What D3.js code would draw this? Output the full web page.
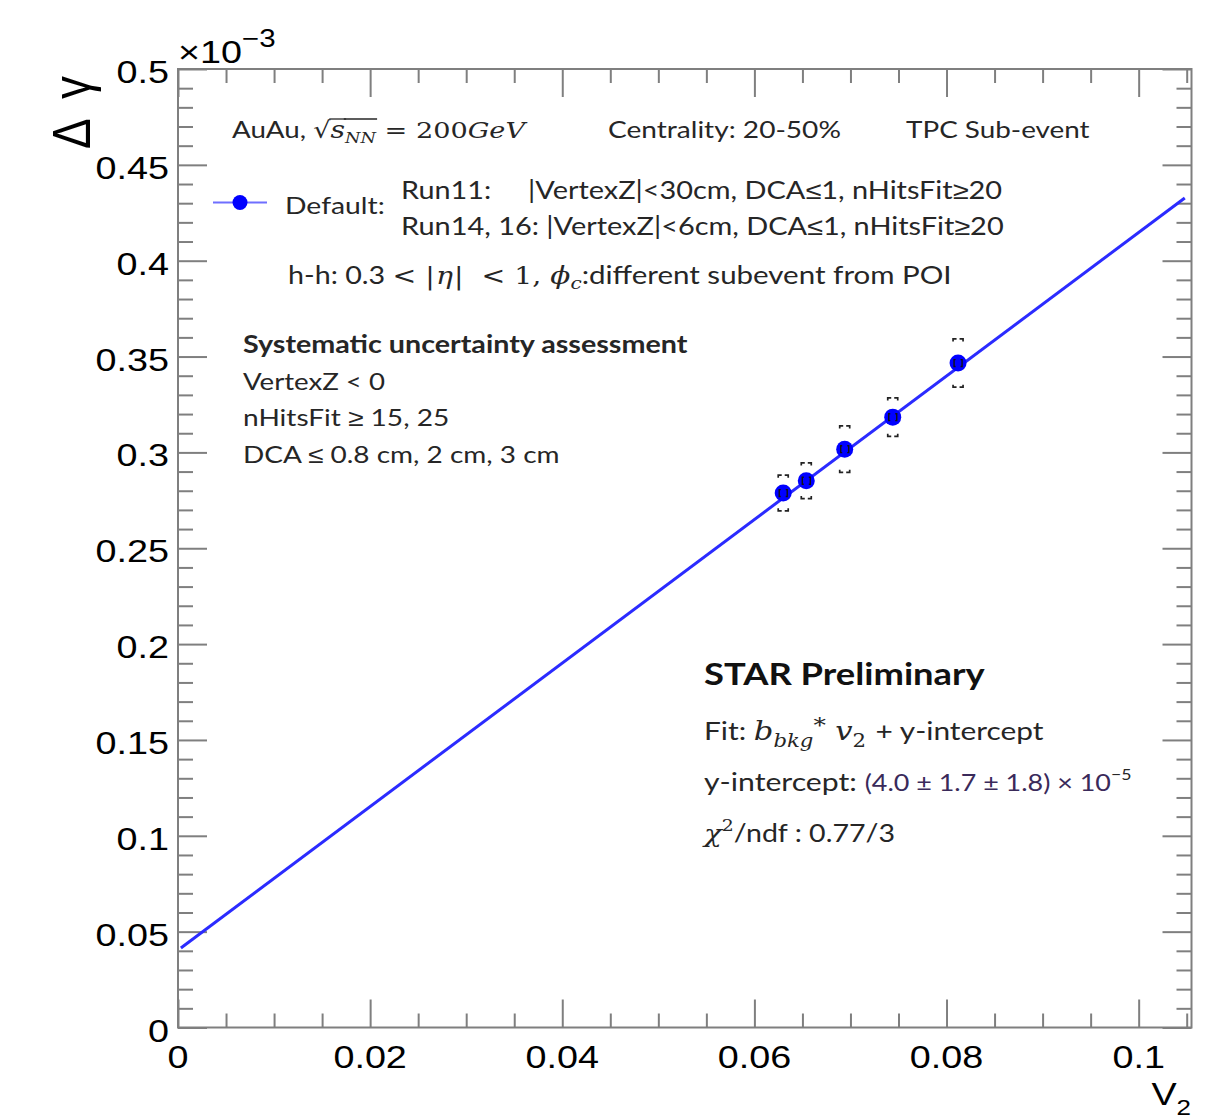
<!DOCTYPE html>
<html>
<head>
<meta charset="utf-8">
<script src="https://cdn.jsdelivr.net/npm/d3@7"></script>
<style>
  html, body { margin: 0; padding: 0; background: #fff; }
  svg { display: block; }
  text { white-space: pre; }
</style>
</head>
<body>
<svg id="chart" width="1222" height="1119"></svg>
<script>
// ---------------- data ----------------
const v2 = [0.0630, 0.0654, 0.0694, 0.0744, 0.0812];
const deltaGamma = [0.2788, 0.2852, 0.3017, 0.3184, 0.3466];   // x 10^-3
const statErr = [0.0018, 0.0018, 0.0018, 0.0018, 0.0018];
const sysErr = [0.0093, 0.0093, 0.0121, 0.0100, 0.0126];
const fitX = [0.0003, 0.1048];
const fitY = [0.0415, 0.4327];
const xMajorTicks = [0, 0.02, 0.04, 0.06, 0.08, 0.1];
const xTickLabels = ["0", "0.02", "0.04", "0.06", "0.08", "0.1"];
const yMajorTicks = [0, 0.05, 0.1, 0.15, 0.2, 0.25, 0.3, 0.35, 0.4, 0.45, 0.5];
const yTickLabels = ["0", "0.05", "0.1", "0.15", "0.2", "0.25", "0.3", "0.35", "0.4", "0.45", "0.5"];
const xDomain = [0, 0.1055];
const yDomain = [0, 0.5];

// ---------------- setup ----------------
const SX = 1.18;                // horizontal stretch of the reference picture
const AXF = "'Liberation Sans', Arial, Helvetica, sans-serif";
const BODY = "Lato, 'Open Sans', sans-serif";
const SERIF = "'DejaVu Serif', 'Liberation Serif', serif";
const TXT = "#262626";
const FRAME = "#7f7f7f";

const svg = d3.select("#chart");
const L = 178, R = 1191.5, T = 69, B = 1027.5;
const x = d3.scaleLinear().domain(xDomain).range([L, R]);
const y = d3.scaleLinear().domain(yDomain).range([B, T]);

// ---------------- axes / ticks ----------------
const xMinor = d3.range(0.005, 0.1055, 0.005).filter(v => xMajorTicks.every(m => Math.abs(m - v) > 1e-9));
const yMinor = d3.range(0.01, 0.5, 0.01).filter(v => yMajorTicks.every(m => Math.abs(m - v) > 1e-9));

function tickAxis(gen, vals, size, tr) {
  const g = svg.append("g").attr("transform", tr)
    .call(gen.tickValues(vals).tickSize(size).tickFormat(""));
  g.select(".domain").remove();
  g.selectAll("line").attr("stroke", FRAME).attr("stroke-width", 2);
}
tickAxis(d3.axisBottom(x), xMajorTicks, -28, `translate(0,${B})`);
tickAxis(d3.axisBottom(x), xMinor, -14, `translate(0,${B})`);
tickAxis(d3.axisTop(x), xMajorTicks, -28, `translate(0,${T})`);
tickAxis(d3.axisTop(x), xMinor, -14, `translate(0,${T})`);
tickAxis(d3.axisLeft(y), yMajorTicks, -29, `translate(${L},0)`);
tickAxis(d3.axisLeft(y), yMinor, -15, `translate(${L},0)`);
tickAxis(d3.axisRight(y), yMajorTicks, -29, `translate(${R},0)`);
tickAxis(d3.axisRight(y), yMinor, -15, `translate(${R},0)`);

svg.append("rect").attr("x", L).attr("y", T).attr("width", R - L).attr("height", B - T)
  .attr("fill", "none").attr("stroke", FRAME).attr("stroke-width", 2);

// tick labels
xMajorTicks.forEach((v, i) => {
  svg.append("text")
    .attr("transform", `translate(${x(v)},${B + 40}) scale(${SX},1)`)
    .attr("text-anchor", "middle")
    .style("font-family", AXF).style("font-size", "32px").attr("fill", "#000")
    .text(xTickLabels[i]);
});
yMajorTicks.forEach((v, i) => {
  svg.append("text")
    .attr("transform", `translate(${L - 9},${y(v) + 14}) scale(${SX},1)`)
    .attr("text-anchor", "end")
    .style("font-family", AXF).style("font-size", "32px").attr("fill", "#000")
    .text(yTickLabels[i]);
});

// exponent label x10^-3
const ex = svg.append("text")
  .attr("transform", `translate(${L},63) scale(${SX},1)`)
  .style("font-family", AXF).style("font-size", "32px").attr("fill", "#000");
ex.append("tspan").text("×10");
ex.append("tspan").attr("dy", -16).style("font-size", "25px").text("−3");

// axis titles
const yt = svg.append("text")
  .attr("transform", `translate(90,149) scale(${SX},1) rotate(-90)`)
  .attr("text-anchor", "start")
  .style("font-family", AXF).style("font-size", "46px").attr("fill", "#000");
yt.append("tspan").text("Δ ");
yt.append("tspan").attr("dx", 9).text("γ");
const xt = svg.append("text")
  .attr("transform", `translate(1191,1105) scale(${SX},1)`)
  .attr("text-anchor", "end")
  .style("font-family", AXF).style("font-size", "32px").attr("fill", "#000");
xt.append("tspan").text("V");
xt.append("tspan").attr("dy", 10).style("font-size", "22px").text("2");

// ---------------- fit line ----------------
const fitData = fitX.map((d, i) => ({ x: d, y: fitY[i] }));
svg.append("path").datum(fitData)
  .attr("d", d3.line().x(d => x(d.x)).y(d => y(d.y)))
  .attr("fill", "none").attr("stroke", "#2b2bff").attr("stroke-width", 3);

// ---------------- points ----------------
const pts = v2.map((d, i) => ({ x: d, y: deltaGamma[i], s: statErr[i], sys: sysErr[i] }));
const pg = svg.append("g");
pts.forEach(p => {
  const cx = x(p.x);
  const top = y(p.y + p.sys), bot = y(p.y - p.sys);
  pg.append("path")
    .attr("d", `M${cx - 5},${top + 2.5}V${top}H${cx - 1.5} M${cx + 1.5},${top}H${cx + 5}V${top + 2.5}` +
               ` M${cx - 5},${bot - 2.5}V${bot}H${cx - 1.5} M${cx + 1.5},${bot}H${cx + 5}V${bot - 2.5}`)
    .attr("fill", "none").attr("stroke", "#222").attr("stroke-width", 1.7);
});
pg.selectAll("circle.pt").data(pts).join("circle").attr("class", "pt")
  .attr("cx", d => x(d.x)).attr("cy", d => y(d.y)).attr("r", 8.5).attr("fill", "#0000ff");
pts.forEach(p => {
  const cx = x(p.x);
  const t = y(p.y + p.s), b = y(p.y - p.s);
  pg.append("path")
    .attr("d", `M${cx - 2.5},${t}H${cx - 4}V${b}H${cx - 2.5} M${cx + 2.5},${t}H${cx + 4}V${b}H${cx + 2.5}`)
    .attr("fill", "none").attr("stroke", "#111").attr("stroke-width", 1.4);
});

// ---------------- rich text helper ----------------
function rich(x0, y0, parts) {
  const g = svg.append("g").attr("transform", `translate(${x0},${y0}) scale(${SX},1)`);
  let cx = 0;
  parts.forEach(p => {
    const t = g.append("text").attr("x", cx).attr("y", p.dy || 0)
      .style("font-family", p.f || BODY)
      .style("font-size", (p.s || 23) + "px")
      .style("font-style", p.i ? "italic" : "normal")
      .style("font-weight", p.b ? "bold" : "normal")
      .attr("fill", p.c || TXT)
      .text(p.t);
    const w = t.node().getComputedTextLength();
    if (p.over) {
      g.append("line").attr("x1", cx - 1).attr("x2", cx + w + 1)
        .attr("y1", p.over).attr("y2", p.over).attr("stroke", TXT).attr("stroke-width", 1.3);
    }
    cx += w + (p.gap || 0);
  });
  return g;
}
// split a plain string so that ≤ / ≥ use a font carrying full-size glyphs
function plain(str, s, extra) {
  return str.split(/([≤≥])/).filter(d => d.length).map(d =>
    Object.assign({ t: d, s: s, f: /[≤≥]/.test(d) ? AXF : BODY }, extra || {}));
}

// header row
rich(232, 138, [
  { t: "AuAu, ", s: 23.5 },
  { t: "√", f: SERIF, s: 23 },
  { t: "s", f: SERIF, s: 24, i: true, over: -19 },
  { t: "NN", f: SERIF, s: 15, i: true, dy: 5, over: -19 },
  { t: " = 200", f: SERIF, s: 23 },
  { t: "GeV", f: SERIF, s: 23, i: true }
]);
rich(608, 138, plain("Centrality: 20-50%", 23.8));
rich(906, 138, plain("TPC Sub-event", 23.6));

// legend
svg.append("line").attr("x1", 213).attr("x2", 267).attr("y1", 202.5).attr("y2", 202.5)
  .attr("stroke", "#6f6fff").attr("stroke-width", 2);
svg.append("circle").attr("cx", 240).attr("cy", 202.5).attr("r", 7.5).attr("fill", "#0000ff");
rich(285, 214, plain("Default:", 24));
rich(401, 199, plain("Run11:", 24.4));
rich(528, 199, plain("|VertexZ|<30cm, DCA≤1, nHitsFit≥20", 24.5));
rich(401, 235, plain("Run14, 16: |VertexZ|<6cm, DCA≤1, nHitsFit≥20", 24.5));

rich(288, 284, [
  { t: "h-h: 0.3 ", s: 24.3 },
  { t: "< |", f: SERIF, s: 24, gap: 1 },
  { t: "η", f: SERIF, s: 24, i: true, gap: 1 },
  { t: "|  < ", f: SERIF, s: 24 },
  { t: "1, ", f: SERIF, s: 24 },
  { t: "ϕ", f: SERIF, s: 25, i: true },
  { t: "c", f: SERIF, s: 17, i: true, dy: 5 },
  { t: ":different subevent from POI", s: 25 }
]);

// systematic block
rich(243, 353, [{ t: "Systematic uncertainty assessment", b: true, s: 24.3 }]);
rich(243, 390, plain("VertexZ < 0", 23.4));
rich(243, 426, plain("nHitsFit ≥ 15, 25", 23.8));
rich(243, 463, plain("DCA ≤ 0.8 cm, 2 cm, 3 cm", 23.7));

// STAR block
rich(704, 685, [{ t: "STAR Preliminary", b: true, s: 30.8, c: "#111" }]);
rich(704, 740, [
  { t: "Fit: ", s: 25.3 },
  { t: "b", f: SERIF, s: 26, i: true },
  { t: "bkg", f: SERIF, s: 18, i: true, dy: 7 },
  { t: "*", f: SERIF, s: 21, dy: -8, gap: 8 },
  { t: "v", f: SERIF, s: 26, i: true },
  { t: "2", f: SERIF, s: 18, dy: 7, gap: 8 },
  { t: "+ y-intercept", s: 25.3 }
]);
rich(704, 791, [
  { t: "y-intercept: ", s: 25.6 },
  { t: "(4.0 ± 1.7 ± 1.8) × 10", s: 22.8, c: "#3a2a5a" },
  { t: "−5", s: 15, dy: -11 }
]);
rich(704, 842, [
  { t: "χ", f: SERIF, s: 25, i: true },
  { t: "2", f: SERIF, s: 16, dy: -11 },
  { t: "/ndf : 0.77/3", s: 24.2 }
]);
</script>
</body>
</html>
